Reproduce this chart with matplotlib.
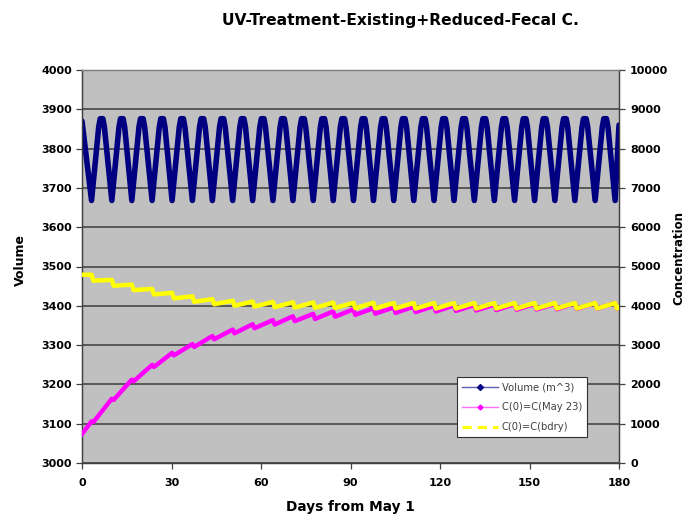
import matplotlib
matplotlib.use('Agg')
import matplotlib.pyplot as plt
from matplotlib.lines import Line2D

# ---------------- data ----------------
title = "UV-Treatment-Existing+Reduced-Fecal C."
x_ticks = [0, 30, 60, 90, 120, 150, 180]
vol_ticks = [3000, 3100, 3200, 3300, 3400, 3500, 3600, 3700, 3800, 3900, 4000]
conc_ticks = [0, 1000, 2000, 3000, 4000, 5000, 6000, 7000, 8000, 9000, 10000]
series_names = ["Volume (m^3)", "C(0)=C(May 23)", "C(0)=C(bdry)"]

# days at which the volume reaches a trough (cycle boundaries)
trough_days = [3.2, 10.0, 16.7, 23.5, 30.2, 37.0, 43.7, 50.5, 57.2, 64.0, 70.7,
               77.5, 84.2, 91.0, 97.7, 104.5, 111.2, 118.0, 124.7, 131.5, 138.2,
               145.0, 151.7, 158.5, 165.2, 172.0, 178.7]
vol_start = 3870
vol_end = 3860
vol_trough = 3668
vol_peak = 3876
vol_shoulder = 3855
# one volume cycle: days after trough -> value
cycle_offsets = [2.4, 2.9, 3.8, 4.3]
cycle_values = [vol_shoulder, vol_peak, vol_peak, vol_shoulder]

# concentration just before / just after the step at each trough
mag_start, mag_end = 740, 3960
mag_pre = [1060, 1635, 2122, 2497, 2802, 3027, 3232, 3395, 3532, 3637, 3735,
           3795, 3857, 3910, 3940, 3960, 3980, 3995, 4010, 4020, 4030, 4040,
           4045, 4050, 4060, 4065, 4070]
mag_post = [1040, 1605, 2078, 2443, 2738, 2953, 3148, 3300, 3428, 3523, 3610,
            3665, 3722, 3770, 3800, 3820, 3840, 3855, 3870, 3880, 3890, 3900,
            3905, 3910, 3920, 3925, 3930]
bdry_start, bdry_end = 4790, 3960
bdry_pre = [4790, 4660, 4540, 4430, 4330, 4240, 4170, 4130, 4110, 4100, 4090,
            4085, 4080, 4075, 4075, 4070, 4070, 4070, 4070, 4070, 4070, 4070,
            4070, 4070, 4070, 4070, 4070]
bdry_post = [4640, 4510, 4400, 4290, 4190, 4100, 4040, 4000, 3980, 3965, 3955,
             3950, 3945, 3940, 3935, 3935, 3930, 3930, 3930, 3930, 3930, 3930,
             3930, 3930, 3930, 3930, 3930]

# ---------------- build polylines from the read values ----------------
vx, vy = [0.0], [vol_start]
for i, t in enumerate(trough_days):
    vx.append(t); vy.append(vol_trough)
    if i + 1 >= len(trough_days):
        break
    for o, v in zip(cycle_offsets, cycle_values):
        vx.append(t + o); vy.append(v)
vx.append(180.0); vy.append(vol_end)

def conc_line(start, pre, post, end):
    xs, ys = [0.0], [start]
    for t, a, b in zip(trough_days, pre, post):
        xs += [t, t + 0.6]
        ys += [a, b]
    xs.append(180.0); ys.append(end)
    return xs, ys

mx, my = conc_line(mag_start, mag_pre, mag_post, mag_end)
bx, by = conc_line(bdry_start, bdry_pre, bdry_post, bdry_end)

# ---------------- figure ----------------
plt.rcParams['font.family'] = ['DejaVu Sans']
W, H = 686, 518
fig = plt.figure(figsize=(W / 100, H / 100), dpi=100)
L, R, T, B = 82, 619, 70, 463
ax = fig.add_axes([L / W, 1 - B / H, (R - L) / W, (B - T) / H])
ax.set_facecolor('#C0C0C0')
ax.set_xlim(0, 180)
ax.set_ylim(3000, 4000)
ax.set_xticks(x_ticks)
ax.set_yticks(vol_ticks)
ax.yaxis.grid(True, color='#505050', lw=1.3)
ax.set_axisbelow(True)

navy = '#000080'
ax.plot(vx, vy, color=navy, lw=4.0, solid_joinstyle='round',
        solid_capstyle='round', zorder=3)

ax2 = ax.twinx()
ax2.set_ylim(0, 10000)
ax2.set_yticks(conc_ticks)
ax2.plot(mx, my, color='#FF00FF', lw=3.2, solid_joinstyle='round', zorder=3)
ax2.plot(bx, by, color='#FFFF00', lw=3.2, solid_joinstyle='round', zorder=4)

for a in (ax, ax2):
    for s in a.spines.values():
        s.set_color('#404040')
        s.set_linewidth(0.9)
    a.spines['top'].set_color('#808080')

ax.tick_params(axis='y', direction='out', length=4, width=0.9, color='#404040',
               pad=3, labelsize=8)
ax.tick_params(axis='x', direction='out', length=4, width=0.9, color='#404040',
               pad=7, labelsize=8)
ax2.tick_params(axis='y', direction='out', length=4, width=0.9, color='#404040',
                pad=4, labelsize=8)
for lab in ax.get_xticklabels() + ax.get_yticklabels() + ax2.get_yticklabels():
    lab.set_fontweight('bold')

handles = [
    Line2D([], [], color='#6060B0', lw=1.0, marker='D', markersize=3,
           markerfacecolor=navy, markeredgecolor=navy),
    Line2D([], [], color='#FF70FF', lw=1.0, marker='D', markersize=2.5,
           markerfacecolor='#FF00FF', markeredgecolor='#FF00FF'),
    Line2D([], [], color='#FFFF00', lw=2.2, ls=(0, (3, 2))),
]
leg = ax2.legend(handles, series_names, loc='upper left',
                 bbox_to_anchor=((457 - L) / (R - L), (B - 377) / (B - T)),
                 fontsize=7.2, frameon=True, fancybox=False, handlelength=3.6,
                 borderpad=0.5, labelspacing=1.0, handletextpad=0.4,
                 borderaxespad=0, framealpha=1)
leg.get_frame().set_edgecolor('#303030')
leg.get_frame().set_facecolor('white')
leg.get_frame().set_linewidth(0.8)
for t in leg.get_texts():
    t.set_color('#404040')

fig.text(400 / W, 1 - 20 / H, title, ha='center', va='center',
         fontsize=11.2, fontweight='bold')
fig.text(350 / W, 1 - 507 / H, "Days from May 1", ha='center', va='center',
         fontsize=9.8, fontweight='bold')
fig.text(20 / W, 1 - 260 / H, "Volume", ha='center', va='center',
         rotation=90, fontsize=9, fontweight='bold')
fig.text(679 / W, 1 - 258 / H, "Concentration", ha='center', va='center',
         rotation=90, fontsize=8.5, fontweight='bold')

fig.savefig('out.png', dpi=100)
